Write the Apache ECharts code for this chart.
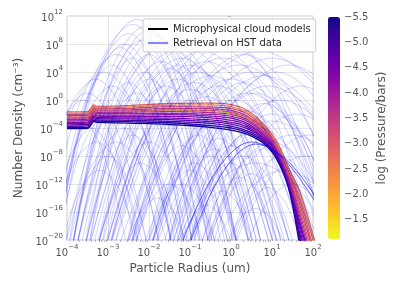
<!DOCTYPE html>
<html><head><meta charset="utf-8">
<script src="https://cdn.jsdelivr.net/npm/echarts@6/dist/echarts.min.js"></script>
<style>html,body{margin:0;padding:0;background:#fff}#c{width:399px;height:285px}</style>
</head><body><div id="c"></div>
<script>
// ---------- data (log10 units) ----------
const xTickExponents = [-4, -3, -2, -1, 0, 1, 2];
const yTickExponents = [-20, -16, -12, -8, -4, 0, 4, 8, 12];
const colorbarTicks = [-5.5, -5.0, -4.5, -4.0, -3.5, -3.0, -2.5, -2.0, -1.5];
const pressureRange = [-5.5, -1.12];

// microphysical model curves: shared log10(radius) grid, log10(density) per curve (drawn in this order)
const modelRadiusLog = [-4, -3.5, -3.42, -3.34, -3.27, -2.5, -1.5, -0.5, 0.0, 0.4, 0.8, 1.1, 1.4, 1.7, 2.0, 2.2];
const modelPressureLog = [-1.2, -5.5, -5.2, -4.9, -4.6, -4.4, -4.2, -4.0, -3.8, -3.6, -3.0, -3.4, -3.2, -2.3, -2.8];
const modelDensityLog = [
  [-2.5, -2.45, -2.0, -1.5, -1.7, -1.65, -1.5, -1.65, -1.9, -2.6, -4.3, -6.4, -10.2, -15.4, -21.5, -26],
  [-4.1, -4.05, -3.6, -3.05, -3.2, -3.3, -3.5, -3.9, -4.3, -4.9, -6.2, -8.3, -12.5, -21.5, -30, -36],
  [-3.9, -3.9, -3.45, -2.9, -3.0, -3.1, -3.25, -3.65, -4.0, -4.65, -6.0, -8.1, -12.2, -20.8, -29.2, -35],
  [-3.75, -3.7, -3.2, -2.7, -2.85, -2.9, -3.05, -3.35, -3.75, -4.4, -5.8, -7.9, -12.0, -20.3, -28.3, -34],
  [-3.55, -3.5, -3.05, -2.5, -2.65, -2.7, -2.8, -3.1, -3.45, -4.1, -5.6, -7.7, -11.8, -19.6, -27.5, -33],
  [-3.35, -3.3, -2.85, -2.35, -2.5, -2.55, -2.6, -2.85, -3.2, -3.85, -5.4, -7.5, -11.6, -19.0, -26.7, -32],
  [-3.2, -3.15, -2.7, -2.15, -2.3, -2.35, -2.35, -2.55, -2.9, -3.6, -5.15, -7.35, -11.4, -18.4, -25.8, -31],
  [-3.0, -2.95, -2.5, -1.95, -2.15, -2.15, -2.1, -2.3, -2.6, -3.35, -4.95, -7.15, -11.15, -17.8, -25.0, -30],
  [-2.8, -2.75, -2.3, -1.8, -1.95, -1.95, -1.9, -2.05, -2.35, -3.05, -4.75, -6.95, -10.9, -17.2, -24.2, -29],
  [-2.6, -2.55, -2.1, -1.6, -1.8, -1.75, -1.65, -1.8, -2.05, -2.8, -4.55, -6.75, -10.7, -16.6, -23.4, -28],
  [-2.45, -2.4, -1.95, -1.4, -1.6, -1.55, -1.4, -1.5, -1.75, -2.55, -4.35, -6.55, -10.5, -16.0, -22.5, -27],
  [-2.25, -2.2, -1.75, -1.25, -1.45, -1.4, -1.2, -1.25, -1.5, -2.3, -4.1, -6.4, -10.3, -15.3, -21.7, -26],
  [-2.05, -2.0, -1.55, -1.05, -1.25, -1.2, -0.95, -1.0, -1.2, -2.0, -3.9, -6.2, -10.05, -14.7, -20.9, -25],
  [-1.9, -1.85, -1.4, -0.9, -1.1, -1.0, -0.75, -0.7, -0.95, -1.75, -3.7, -6.0, -9.8, -14.1, -20.0, -24.5],
  [-1.7, -1.65, -1.2, -0.7, -0.9, -0.8, -0.5, -0.45, -0.65, -1.5, -3.5, -5.8, -9.6, -13.5, -19.2, -23.5]
];

// retrieval curves: [log10 radius, log10 density] points
const retrievalCurves = [
  [[-4.25,-22],[-3.28,3.1],[-2.3,11.5],[-1.33,3.1],[-0.35,-22]],
  [[-3.9,-22],[-2.95,2],[-2,10],[-1.05,2],[-0.1,-22]],
  [[-4.3,-22],[-3.4,1.6],[-2.5,9.5],[-1.6,1.6],[-0.7,-22]],
  [[-3.8,-22],[-2.8,1.25],[-1.8,9],[-0.8,1.25],[0.2,-22]],
  [[-3.9,-22],[-3.05,0.9],[-2.2,8.5],[-1.35,0.9],[-0.5,-22]],
  [[-3.7,-22],[-2.65,0.5],[-1.6,8],[-0.55,0.5],[0.5,-22]],
  [[-4.3,-22],[-3.5,0.1],[-2.7,7.5],[-1.9,0.1],[-1.1,-22]],
  [[-3.6,-22],[-2.5,-0.25],[-1.4,7],[-0.3,-0.25],[0.8,-22]],
  [[-3.6,-22],[-2.8,-0.6],[-2,6.5],[-1.2,-0.6],[-0.4,-22]],
  [[-3.5,-22],[-2.35,-1],[-1.2,6],[-0.05,-1],[1.1,-22]],
  [[-3.9,-22],[-3.15,-1],[-2.4,6],[-1.65,-1],[-0.9,-22]],
  [[-3.6,-22],[-2.65,-1.4],[-1.7,5.5],[-0.75,-1.4],[0.2,-22]],
  [[-3.2,-22],[-2.1,-1.75],[-1,5],[0.1,-1.75],[1.2,-22]],
  [[-4.4,-22],[-3.65,-1.75],[-2.9,5],[-2.15,-1.75],[-1.4,-22]],
  [[-3.2,-22],[-2.35,-2.1],[-1.5,4.5],[-0.65,-2.1],[0.2,-22]],
  [[-3.1,-22],[-1.95,-2.5],[-0.8,4],[0.35,-2.5],[1.5,-22]],
  [[-3.5,-22],[-2.8,-2.5],[-2.1,4],[-1.4,-2.5],[-0.7,-22]],
  [[-3.3,-22],[-2.3,-3.25],[-1.3,3],[-0.3,-3.25],[0.7,-22]],
  [[-2.9,-22],[-1.7,-2.9],[-0.5,3.5],[0.7,-2.9],[1.9,-22]],
  [[-2.5,-22],[-1.25,-3.25],[0,3],[1.25,-3.25],[2.5,-22]],
  [[-2.5,-22],[-1.4,-4],[-0.3,2],[0.8,-4],[1.9,-22]],
  [[-2,-22],[-0.85,-3.6],[0.3,2.5],[1.45,-3.6],[2.6,-22]],
  [[-3,-22],[-2,-4.4],[-1,1.5],[0,-4.4],[1,-22]],
  [[-1.6,-22],[-0.5,-4.75],[0.6,1],[1.7,-4.75],[2.8,-22]],
  [[-2.5,-22],[-1.55,-5.1],[-0.6,0.5],[0.35,-5.1],[1.3,-22]],
  [[-1.9,-22],[-0.9,-5.5],[0.1,0],[1.1,-5.5],[2.1,-22]],
  [[-3.1,-22],[-2.2,-5.9],[-1.3,-0.5],[-0.4,-5.9],[0.5,-22]],
  [[-1.2,-22],[-0.2,-5.9],[0.8,-0.5],[1.8,-5.9],[2.8,-22]],
  [[-1.9,-22],[-1.05,-6.25],[-0.2,-1],[0.65,-6.25],[1.5,-22]],
  [[-1.5,-22],[-0.55,-6.6],[0.4,-1.5],[1.35,-6.6],[2.3,-22]],
  [[-2.5,-22],[-1.7,-7],[-0.9,-2],[-0.1,-7],[0.7,-22]],
  [[-1.1,-22],[-0.05,-7],[1,-2],[2.05,-7],[3.1,-22]],
  [[-1.4,-22],[-0.6,-7.75],[0.2,-3],[1,-7.75],[1.8,-22]],
  [[-2,-22],[-1.25,-8.1],[-0.5,-3.5],[0.25,-8.1],[1,-22]],
  [[-1.1,-22],[-0.2,-8.5],[0.7,-4],[1.6,-8.5],[2.5,-22]],
  [[-3.4,-22],[-2.5,-4],[-1.6,2],[-0.7,-4],[0.2,-22]],
  [[-3.8,-22],[-3.05,-4.75],[-2.3,1],[-1.55,-4.75],[-0.8,-22]],
  [[-3.3,-22],[-2.6,-6.25],[-1.9,-1],[-1.2,-6.25],[-0.5,-22]],
  [[-2.1,-22],[-1.45,-9.25],[-0.8,-5],[-0.15,-9.25],[0.5,-22]],
  [[-1.7,-22],[-1,-9.6],[-0.3,-5.5],[0.4,-9.6],[1.1,-22]],
  [[-2.4,-22],[-1.8,-10.4],[-1.2,-6.5],[-0.6,-10.4],[0,-22]],
  [[-0.6,-22],[0.1,-10.75],[0.8,-7],[1.5,-10.75],[2.2,-22]],
  [[-1.6,-22],[-1.05,-11.5],[-0.5,-8],[0.05,-11.5],[0.6,-22]],
  [[-1.1,-22],[-0.55,-12.25],[0,-9],[0.55,-12.25],[1.1,-22]],
  [[-2,-22],[-1.5,-13],[-1,-10],[-0.5,-13],[0,-22]],
  [[-0.5,-22],[0,-13.4],[0.5,-10.5],[1,-13.4],[1.5,-22]],
  [[-0.1,-22],[0.55,-11.5],[1.2,-8],[1.85,-11.5],[2.5,-22]],
  [[-2.4,-22],[-1.95,-14.5],[-1.5,-12],[-1.05,-14.5],[-0.6,-22]],
  [[0,-22],[0.45,-14.9],[0.9,-12.5],[1.35,-14.9],[1.8,-22]],
  [[-1,-22],[-0.6,-15.25],[-0.2,-13],[0.2,-15.25],[0.6,-22]],
  [[-3.3,-22],[-2.75,-12.25],[-2.2,-9],[-1.65,-12.25],[-1.1,-22]],
  [[-4.1,-22],[-3.45,-10],[-2.8,-6],[-2.15,-10],[-1.5,-22]],
  [[-4.2,-22],[-3.7,-13],[-3.2,-10],[-2.7,-13],[-2.2,-22]],
  [[-4.3,-22],[-3.65,-7],[-3,-2],[-2.35,-7],[-1.7,-22]],
  [[-3.8,-22],[-3.2,-8.5],[-2.6,-4],[-2,-8.5],[-1.4,-22]],
  [[-4.5,-22],[-3.95,-8.5],[-3.4,-4],[-2.85,-8.5],[-2.3,-22]],
  [[-5,-22],[-4.3,-5.5],[-3.6,0],[-2.9,-5.5],[-2.2,-22]],
  [[-4.4,-22],[-3.65,-4],[-2.9,2],[-2.15,-4],[-1.4,-22]],
  [[-4.9,-22],[-4.1,-3.25],[-3.3,3],[-2.5,-3.25],[-1.7,-22]],
  [[-2.5,-22],[-1,-2.5],[0.5,4],[2,-2.5],[3.5,-22]],
  [[-1.9,-22],[-0.5,-4],[0.9,2],[2.3,-4],[3.7,-22]],
  [[-1.4,-22],[-0.1,-5.5],[1.2,0],[2.5,-5.5],[3.8,-22]],
  [[-1.4,-22],[-0.2,-7.75],[1,-3],[2.2,-7.75],[3.4,-22]],
  [[-0.7,-22],[0.4,-9.25],[1.5,-5],[2.6,-9.25],[3.7,-22]],
  [[-2.8,-22],[-1.3,-1.75],[0.2,5],[1.7,-1.75],[3.2,-22]],
  [[-0.5,-22],[0.4,-13],[1.3,-10],[2.2,-13],[3.1,-22]],
  [[0,-22],[0.9,-11.5],[1.8,-8],[2.7,-11.5],[3.6,-22]],
  [[-3,-22],[-1.6,-1],[-0.2,6],[1.2,-1],[2.6,-22]],
  [[-1.4,-22],[-0.4,-12.25],[0.6,-9],[1.6,-12.25],[2.6,-22]],
  [[-2.2,-22],[-0.6,-1],[1,6],[2.6,-1],[4.2,-22]],
  [[-1.6,-22],[-0.1,-1.75],[1.4,5],[2.9,-1.75],[4.4,-22]],
  [[-2.6,-22],[-0.95,-0.25],[0.7,7],[2.35,-0.25],[4,-22]],
  [[-2.6,-22],[-1.3,0.1],[0,7.5],[1.3,0.1],[2.6,-22]],
  [[-2.9,-22],[-1.65,0.5],[-0.4,8],[0.85,0.5],[2.1,-22]],
  [[-2.4,-22],[-1.05,-0.6],[0.3,6.5],[1.65,-0.6],[3,-22]],
  [[-4.0,-22],[-3.05,2.4],[-2.1,10.5],[-1.15,2.4],[-0.2,-22]],
  [[-3.9,-22],[-2.9,1.6],[-1.9,9.5],[-0.9,1.6],[0.1,-22]],
  [[-4.35,-22],[-3.38,2.6],[-2.4,10.8],[-1.42,2.6],[-0.45,-22]],
  [[-3.8,-22],[-2.65,0.9],[-1.5,8.5],[-0.35,0.9],[0.8,-22]],
  [[-3.5,-22],[-2.3,0.1],[-1.1,7.5],[0.1,0.1],[1.3,-22]],
  [[-4.3,-22],[-3.45,0.5],[-2.6,8],[-1.75,0.5],[-0.9,-22]],
  [[-3.3,-22],[-2.0,-0.25],[-0.7,7],[0.6,-0.25],[1.9,-22]],
  [[-3.1,-22],[-2.2,-1.75],[-1.3,5],[-0.4,-1.75],[0.5,-22]],
  [[-3.5,-22],[-2.75,-3.25],[-2,3],[-1.25,-3.25],[-0.5,-22]],
  [[-3.9,-22],[-3.2,-3.6],[-2.5,2.5],[-1.8,-3.6],[-1.1,-22]],
  [[-2.6,-22],[-1.8,-5.5],[-1,0],[-0.2,-5.5],[0.6,-22]],
  [[-3.0,-22],[-2.35,-7.75],[-1.7,-3],[-1.05,-7.75],[-0.4,-22]],
  [[-3.6,-22],[-3.0,-9.25],[-2.4,-5],[-1.8,-9.25],[-1.2,-22]],
  [[-4.0,-22],[-3.5,-11.5],[-3,-8],[-2.5,-11.5],[-2,-22]],
  [[-5.1,-22],[-4.45,-7],[-3.8,-2],[-3.15,-7],[-2.5,-22]],
  [[-5,-22],[-4.25,-4.75],[-3.5,1],[-2.75,-4.75],[-2,-22]],
  [[-4.8,-22],[-3.95,-2.5],[-3.1,4],[-2.25,-2.5],[-1.4,-22]],
  [[-4.6,-22],[-3.7,-0.6],[-2.8,6.5],[-1.9,-0.6],[-1.0,-22]],
  [[-1.4,-22],[-0.7,-10.4],[0,-6.5],[0.7,-10.4],[1.4,-22]],
  [[-1.1,-22],[-0.3,-8.9],[0.5,-4.5],[1.3,-8.9],[2.1,-22]],
  [[-1.6,-22],[-1.0,-10.75],[-0.4,-7],[0.2,-10.75],[0.8,-22]],
  [[-1.0,-22],[-0.35,-11.5],[0.3,-8],[0.95,-11.5],[1.6,-22]],
  [[-2.0,-22],[-1.45,-12.25],[-0.9,-9],[-0.35,-12.25],[0.2,-22]],
  [[-0.7,-22],[0.15,-10],[1,-6],[1.85,-10],[2.7,-22]],
  [[-0.7,-22],[0.45,-7],[1.6,-2],[2.75,-7],[3.9,-22]],
  [[-0.1,-22],[0.9,-9.25],[1.9,-5],[2.9,-9.25],[3.9,-22]],
  [[-2.0,-22],[-0.6,-2.9],[0.8,3.5],[2.2,-2.9],[3.6,-22]],
  [[-2.0,-22],[-0.8,-4.75],[0.4,1],[1.6,-4.75],[2.8,-22]],
  [[-2.1,-22],[-1.1,-7.4],[-0.1,-2.5],[0.9,-7.4],[1.9,-22]],
  [[-3.1,-22],[-1.85,-1.4],[-0.6,5.5],[0.65,-1.4],[1.9,-22]],
  [[-3.0,-22],[-1.95,-3.6],[-0.9,2.5],[0.15,-3.6],[1.2,-22]],
  [[-3.0,-22],[-2.2,-7],[-1.4,-2],[-0.6,-7],[0.2,-22]],
  [[-3.3,-22],[-2.65,-10],[-2,-6],[-1.35,-10],[-0.7,-22]],
  [[-4.1,-22],[-3.4,-6.25],[-2.7,-1],[-2.0,-6.25],[-1.3,-22]],
  [[-4.5,-22],[-3.9,-10],[-3.3,-6],[-2.7,-10],[-2.1,-22]],
  [[-2.1,-22],[-1.65,-14.5],[-1.2,-12],[-0.75,-14.5],[-0.3,-22]],
  [[-0.8,-22],[-0.3,-13.75],[0.2,-11],[0.7,-13.75],[1.2,-22]],
  [[0.3,-22],[0.9,-14.5],[1.5,-12],[2.1,-14.5],[2.7,-22]],
  [[-2.6,-22],[-2.2,-16],[-1.8,-14],[-1.4,-16],[-1.0,-22]],
  [[-1.3,-22],[-0.95,-16.75],[-0.6,-15],[-0.25,-16.75],[0.1,-22]],
  [[-0.2,-22],[0.2,-17.1],[0.6,-15.5],[1.0,-17.1],[1.4,-22]],
  [[-1.5,-22],[-0.2,-2.5],[1.1,4],[2.4,-2.5],[3.7,-22]],
  [[-0.8,-22],[0.45,-4],[1.7,2],[2.95,-4],[4.2,-22]],
  [[-2.6,-22],[-1.35,0.9],[-0.1,8.5],[1.15,0.9],[2.4,-22]]
];
// darker (overlapping) retrieval curves
const strongRetrievalCurves = [
  [[-1.3,-22],[-0.4,-10.5],[0.5,-6],[1.3,-8.5],[2.2,-16]],
  [[-1.1,-22],[-0.25,-10.8],[0.6,-6.3],[1.4,-8.8],[2.3,-16]]
];

// ---------- styling helpers ----------
const FONT = 'DejaVu Sans';
const plasmaStops = ['#0d0887','#41049d','#6a00a8','#8f0da4','#b12a90','#cc4778','#e16462','#f2844b','#fca636','#fcce25','#f0f921'];
function hex(c){return [1,3,5].map(i=>parseInt(c.substr(i,2),16));}
function plasma(t){
  t=Math.max(0,Math.min(1,t));
  const s=t*(plasmaStops.length-1), i=Math.min(Math.floor(s),plasmaStops.length-2), f=s-i;
  const a=hex(plasmaStops[i]), b=hex(plasmaStops[i+1]);
  return 'rgb('+a.map((v,k)=>Math.round(v+(b[k]-v)*f)).join(',')+')';
}
function pressureColor(p){return plasma((p-pressureRange[0])/(pressureRange[1]-pressureRange[0]));}
const minus = v => (v<0?'\u2212':'') + Math.abs(v);
const supLabel = v => '{b|10}{s|' + minus(Math.round(v)) + '}';
const richTick = {
  b:{fontSize:10,color:'#555',fontFamily:FONT,lineHeight:14,verticalAlign:'bottom'},
  s:{fontSize:7,color:'#555',fontFamily:FONT,lineHeight:7,verticalAlign:'top'}
};
const minorTickVals = [];
for (let e=-4;e<2;e++) for (let k=2;k<=9;k++) minorTickVals.push(e+Math.log10(k));

const series = [];
modelDensityLog.forEach((row,i)=>{
  series.push({
    type:'line', name:'Microphysical cloud models', xAxisIndex:0, yAxisIndex:0,
    data: modelRadiusLog.map((x,j)=>[x,row[j]]),
    smooth:0.4, showSymbol:false, symbol:'none', silent:true, clip:true,
    lineStyle:{color:pressureColor(modelPressureLog[i]), width:1.3}, z:2
  });
});
retrievalCurves.forEach(c=>{
  series.push({
    type:'line', name:'Retrieval on HST data', xAxisIndex:0, yAxisIndex:0,
    data:c, smooth:0.35, showSymbol:false, symbol:'none', silent:true, clip:true,
    lineStyle:{color:'rgba(0,0,255,0.18)', width:1}, z:3
  });
});
strongRetrievalCurves.forEach(c=>{
  series.push({
    type:'line', name:'Retrieval on HST data', xAxisIndex:0, yAxisIndex:0,
    data:c, smooth:0.35, showSymbol:false, symbol:'none', silent:true, clip:true,
    lineStyle:{color:'rgba(0,0,255,0.6)', width:1}, z:3
  });
});
series.push({type:'scatter', xAxisIndex:2, yAxisIndex:1, data:[], silent:true});

const option = {
  animation:false,
  backgroundColor:'#fff',
  textStyle:{fontFamily:FONT},
  grid:[
    {left:67, right:86, top:16, bottom:45, show:true, borderColor:'#cccccc', borderWidth:1},
    {left:328, width:12, top:17, height:222}
  ],
  legend:{
    left:143, top:19, orient:'vertical', itemGap:4, itemWidth:20, itemHeight:2,
    padding:[5,5,4,5], borderColor:'#cccccc', borderWidth:1, borderRadius:2,
    backgroundColor:'rgba(255,255,255,0.8)',
    textStyle:{fontSize:10, color:'#262626', fontFamily:FONT},
    data:[
      {name:'Microphysical cloud models', icon:'rect', itemStyle:{color:'#000'}, lineStyle:{color:'#000', width:1.5}},
      {name:'Retrieval on HST data', icon:'rect', itemStyle:{color:'rgba(70,70,255,0.65)'}, lineStyle:{color:'rgba(70,70,255,0.65)', width:1.5}}
    ]
  },
  xAxis:[
    {type:'value', gridIndex:0, min:-4, max:2, interval:1,
     axisLine:{show:false}, axisTick:{show:true, length:3, lineStyle:{color:'#bbb'}},
     axisLabel:{formatter:supLabel, rich:richTick, margin:4},
     splitLine:{lineStyle:{color:'#e6e6e6', width:1}},
     name:'Particle Radius (um)', nameLocation:'middle', nameGap:19,
     nameTextStyle:{fontSize:12, color:'#555', fontFamily:FONT}},
    {type:'value', gridIndex:0, min:-4, max:2, position:'bottom',
     axisLine:{show:false}, axisLabel:{show:false}, splitLine:{show:false},
     axisTick:{show:true, length:2, customValues:minorTickVals, lineStyle:{color:'#bbb'}}},
    {type:'value', gridIndex:1, min:0, max:1, show:false}
  ],
  yAxis:[
    {type:'value', gridIndex:0, min:-20, max:12, interval:4,
     axisLine:{show:false}, axisTick:{show:true, length:3, lineStyle:{color:'#bbb'}},
     axisLabel:{formatter:supLabel, rich:richTick, margin:4},
     splitLine:{lineStyle:{color:'#e6e6e6', width:1}},
     name:'Number Density (cm\u207b\u00b3)', nameLocation:'middle', nameGap:42,
     nameTextStyle:{fontSize:12, color:'#555', fontFamily:FONT}},
    {type:'value', gridIndex:1, min:pressureRange[0], max:pressureRange[1], interval:0.5, inverse:true,
     position:'right', axisLine:{show:false}, splitLine:{show:false},
     axisTick:{show:true, length:3, lineStyle:{color:'#bbb'}, customValues:colorbarTicks},
     axisLabel:{fontSize:10, color:'#555', margin:4, customValues:colorbarTicks,
       formatter:v=>colorbarTicks.some(t=>Math.abs(t-v)<1e-6)?((v<0?'\u2212':'')+Math.abs(v).toFixed(1)):''},
     name:'log (Pressure/bars)', nameLocation:'middle', nameGap:36,
     nameTextStyle:{fontSize:12, color:'#555', fontFamily:FONT}}
  ],
  visualMap:{
    type:'continuous', min:pressureRange[0], max:pressureRange[1], seriesIndex:series.length-1,
    left:328, top:17, itemWidth:12, itemHeight:222, inverse:true, padding:0,
    calculable:false, text:null, showLabel:false,
    inRange:{color:plasmaStops}
  },
  series:series
};
const chart = echarts.init(document.getElementById('c'), null, {renderer:'canvas'});
chart.setOption(option);
</script></body></html>
